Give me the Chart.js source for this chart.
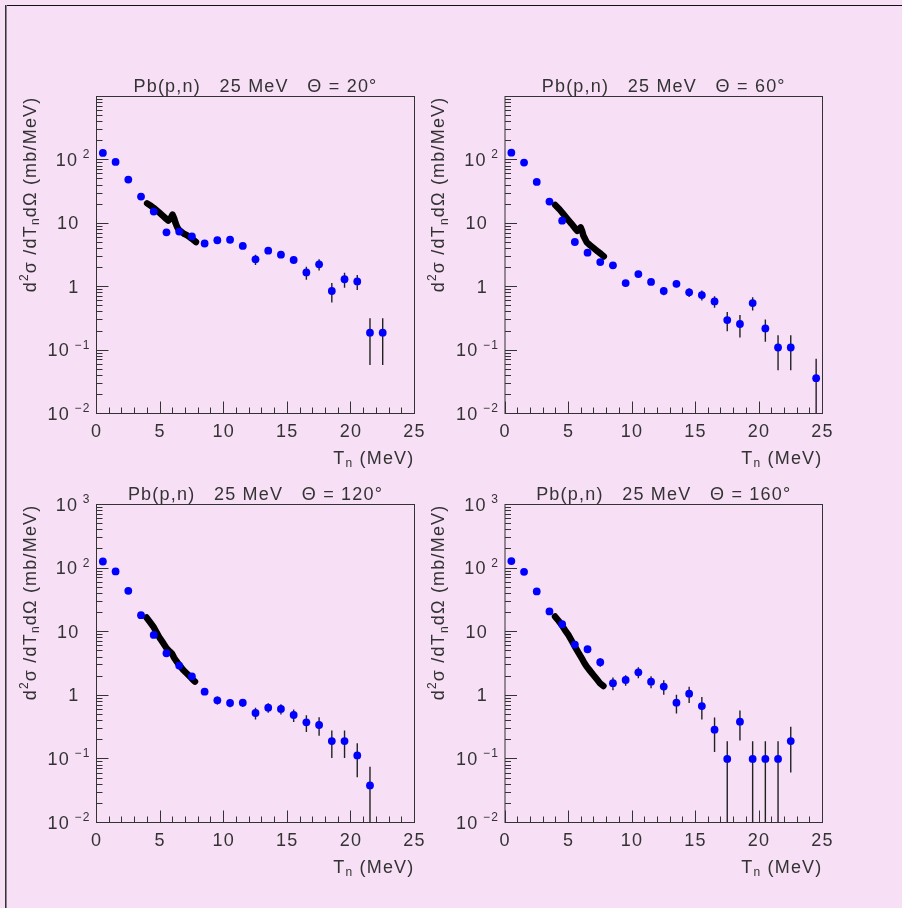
<!DOCTYPE html>
<html lang="en">
<head>
<meta charset="UTF-8">
<title>Pb(p,n) 25 MeV</title>
<script src="https://cdn.jsdelivr.net/npm/chart.js"></script>
<style>
  html, body { margin: 0; padding: 0; background: #f7dff6; }
  body { width: 902px; height: 908px; position: relative; overflow: hidden; }
  .edge-top { position: absolute; left: 5px; top: 5px; width: 897px; height: 1px; background: #111; }
  .edge-left { position: absolute; left: 5px; top: 5px; width: 1px; height: 903px; background: #333; border-right: 1px solid #8a8090; }
  canvas { position: absolute; left: 0; top: 0; pointer-events: none; }
</style>
</head>
<body>
<div class="edge-top"></div>
<div class="edge-left"></div>
<canvas id="c20" width="902" height="908"></canvas>
<canvas id="c60" width="902" height="908"></canvas>
<canvas id="c120" width="902" height="908"></canvas>
<canvas id="c160" width="902" height="908"></canvas>

<script>
// measured points (blue) : Tn in MeV, cross section in mb/MeV, linear errors
const x20 = [0.5, 1.5, 2.5, 3.5, 4.5, 5.5, 6.5, 7.5, 8.5, 9.5, 10.5, 11.5, 12.5, 13.5, 14.5, 15.5, 16.5, 17.5, 18.5, 19.5, 20.5, 21.5, 22.5];
const y20 = [129, 93, 49, 26.4, 15.3, 7.2, 7.4, 6.2, 4.8, 5.4, 5.5, 4.4, 2.7, 3.7, 3.2, 2.64, 1.68, 2.25, 0.855, 1.31, 1.21, 0.188, 0.188];
const e20 = [2, 1.5, 1, 0.6, 0.4, 0.2, 0.2, 0.2, 0.2, 0.2, 0.25, 0.3, 0.5, 0.4, 0.35, 0.35, 0.39, 0.45, 0.29, 0.35, 0.32, 0.13, 0.13];

const x60 = [0.5, 1.5, 2.5, 3.5, 4.5, 5.5, 6.5, 7.5, 8.5, 9.5, 10.5, 11.5, 12.5, 13.5, 14.5, 15.5, 16.5, 17.5, 18.5, 19.5, 20.5, 21.5, 22.5, 24.5];
const y60 = [130, 90.7, 45, 22, 11, 5.07, 3.44, 2.45, 2.17, 1.14, 1.58, 1.19, 0.855, 1.11, 0.815, 0.738, 0.586, 0.298, 0.258, 0.552, 0.22, 0.11, 0.11, 0.0361];
const e60 = [2, 1.5, 1, 0.5, 0.3, 0.15, 0.1, 0.08, 0.08, 0.12, 0.1, 0.12, 0.12, 0.13, 0.13, 0.13, 0.12, 0.1, 0.1, 0.13, 0.085, 0.062, 0.062, 0.037];

const x120 = [0.5, 1.5, 2.5, 3.5, 4.5, 5.5, 6.5, 7.5, 8.5, 9.5, 10.5, 11.5, 12.5, 13.5, 14.5, 15.5, 16.5, 17.5, 18.5, 19.5, 20.5, 21.5];
const y120 = [127, 88.6, 44, 18.2, 8.9, 4.58, 2.93, 1.99, 1.14, 0.834, 0.757, 0.767, 0.527, 0.64, 0.61, 0.49, 0.376, 0.341, 0.191, 0.191, 0.1135, 0.0383];
const e120 = [2, 1.5, 0.8, 0.4, 0.2, 0.1, 0.07, 0.06, 0.13, 0.12, 0.11, 0.11, 0.11, 0.11, 0.11, 0.11, 0.11, 0.11, 0.088, 0.088, 0.062, 0.037];

const x160 = [0.5, 1.5, 2.5, 3.5, 4.5, 5.5, 6.5, 7.5, 8.5, 9.5, 10.5, 11.5, 12.5, 13.5, 14.5, 15.5, 16.5, 17.5, 18.5, 19.5, 20.5, 21.5, 22.5];
const y160 = [129, 87.5, 43, 20.8, 13.1, 6.28, 5.3, 3.31, 1.55, 1.74, 2.3, 1.64, 1.37, 0.767, 1.06, 0.678, 0.288, 0.1, 0.385, 0.1, 0.1, 0.1, 0.191];
const e160 = [2, 1.5, 0.8, 0.4, 0.3, 0.15, 0.15, 0.5, 0.35, 0.33, 0.45, 0.35, 0.35, 0.25, 0.3, 0.26, 0.16, 0.09, 0.19, 0.09, 0.09, 0.09, 0.13];

// calculation (black curve)
const cx20 = [3.98, 4.3, 4.6, 4.9, 5.2, 5.45, 5.64, 5.8, 5.98, 6.1, 6.2, 6.35, 6.5, 6.85, 7.1, 7.35, 7.6, 7.82];
const cy20 = [20.6, 18.7, 16.9, 15.0, 13.2, 11.9, 11.0, 11.8, 13.7, 12.0, 10.3, 8.6, 7.8, 6.9, 6.5, 6.0, 5.5, 5.05];

const cx60 = [3.95, 4.3, 4.6, 4.9, 5.24, 5.5, 5.69, 5.85, 5.96, 6.08, 6.17, 6.44, 6.7, 6.97, 7.3, 7.55, 7.78];
const cy60 = [19.5, 16.5, 14, 11.8, 9.8, 8.4, 7.6, 8.2, 8.6, 7.5, 6.4, 5.0, 4.5, 4.07, 3.6, 3.3, 3.0];

const cx120 = [3.93, 4.2, 4.46, 4.72, 4.98, 5.25, 5.51, 5.75, 5.95, 6.1, 6.3, 6.56, 6.82, 7.1, 7.35, 7.55, 7.74];
const cy120 = [16.7, 14.2, 12.1, 9.8, 7.9, 6.6, 5.5, 4.9, 4.48, 3.9, 3.39, 2.9, 2.5, 2.2, 1.97, 1.78, 1.64];

const cx160 = [3.94, 4.2, 4.46, 4.72, 4.99, 5.25, 5.51, 5.78, 6.04, 6.24, 6.43, 6.7, 6.96, 7.22, 7.48, 7.75];
const cy160 = [17.3, 15, 12.8, 10.6, 8.9, 7.2, 5.8, 4.7, 3.83, 3.25, 2.83, 2.42, 2.09, 1.8, 1.55, 1.4];

// axis ticks
const xMajor = [0, 5, 10, 15, 20, 25];
const yDecades = [-2, -1, 0, 1, 2, 3];

const FONT = '"Liberation Sans", Arial, sans-serif';
const INK = '#333';
const SIZE = 18;

function pts(xs, ys) { return xs.map((v, i) => ({x: v, y: ys[i]})); }

// draws a run of [text, kind] pieces; kind is n / sup / sub
function richText(ctx, parts, x, y, align, size) {
    const fontFor = k => (k === 'n' ? size : Math.round(size * 0.68)) + 'px ' + FONT;
    let w = 0;
    parts.forEach(([t, k]) => { ctx.font = fontFor(k); w += ctx.measureText(t).width; });
    let cx = align === 'right' ? x - w : align === 'center' ? x - w / 2 : x;
    ctx.textAlign = 'left';
    ctx.textBaseline = 'alphabetic';
    parts.forEach(([t, k]) => {
        ctx.font = fontFor(k);
        const dy = k === 'sup' ? -size * 0.42 : k === 'sub' ? size * 0.22 : 0;
        ctx.fillText(t, cx, y + dy);
        cx += ctx.measureText(t).width;
    });
}

function decadeLabel(d) {
    if (d === 0) return [['1', 'n']];
    if (d === 1) return [['10', 'n']];
    const exp = d < 0 ? '\u2212' + (-d) : String(d);
    return [['10', 'n'], [' ', 'sup'], [exp, 'sup']];
}

// crisp 1px position
const snap = v => Math.floor(v) + 0.5;

const rootAxes = {
    id: 'rootAxes',
    beforeDatasetsDraw(chart) {
        // vertical error bars, under the markers
        const {ctx, chartArea: a, scales: {x, y}} = chart;
        const ds = chart.data.datasets[0];
        ctx.save();
        ctx.beginPath();
        ctx.rect(a.left, a.top, a.right - a.left, a.bottom - a.top);
        ctx.clip();
        ctx.strokeStyle = '#222';
        ctx.lineWidth = 1.4;
        ds.data.forEach((p, i) => {
            const e = ds.errors[i];
            if (!e) return;
            const px = x.getPixelForValue(p.x);
            const hi = y.getPixelForValue(p.y + e);
            const lo = p.y - e > 0 ? y.getPixelForValue(p.y - e) : a.bottom;
            ctx.beginPath();
            ctx.moveTo(px, hi);
            ctx.lineTo(px, lo);
            ctx.stroke();
        });
        ctx.restore();
    },
    afterDraw(chart, args, opts) {
        const {ctx, chartArea: a, scales: {x, y}} = chart;
        ctx.save();
        ctx.strokeStyle = INK;
        ctx.fillStyle = INK;
        ctx.lineWidth = 1;
        if ('letterSpacing' in ctx) ctx.letterSpacing = '1.2px';

        ctx.strokeRect(a.left, a.top, a.right - a.left, a.bottom - a.top);

        // x ticks, inside the frame
        ctx.beginPath();
        for (let v = 0; v <= 25; v++) {
            const px = snap(x.getPixelForValue(v));
            const len = xMajor.includes(v) ? 12 : 6;
            ctx.moveTo(px, a.bottom);
            ctx.lineTo(px, a.bottom - len);
        }
        // y ticks, log spaced
        yDecades.forEach(d => {
            for (let m = 1; m <= 9; m++) {
                if (d === 3 && m > 1) break;
                const py = snap(y.getPixelForValue(m * Math.pow(10, d)));
                const len = m === 1 ? 12 : 6;
                ctx.moveTo(a.left, py);
                ctx.lineTo(a.left + len, py);
            }
        });
        ctx.stroke();

        // tick labels
        ctx.textAlign = 'center';
        ctx.textBaseline = 'alphabetic';
        ctx.font = SIZE + 'px ' + FONT;
        xMajor.forEach(v => ctx.fillText(String(v), x.getPixelForValue(v), a.bottom + 23));
        yDecades.forEach(d => {
            if (d === 3 && !opts.showTop) return;
            const py = y.getPixelForValue(Math.pow(10, d)) + 6;
            const right = (d === 0 || d === 1) ? a.left - 17 : a.left - 6;
            richText(ctx, decadeLabel(d), right, py, 'right', SIZE);
        });

        // titles
        richText(ctx, [[opts.title, 'n']], (a.left + a.right) / 2, a.top - 5, 'center', SIZE);
        richText(ctx, [['T', 'n'], ['n', 'sub'], [' (MeV)', 'n']], a.right, a.bottom + 50, 'right', SIZE);
        ctx.translate(a.left - 61, a.top);
        ctx.rotate(-Math.PI / 2);
        richText(ctx, [['d', 'n'], ['2', 'sup'], ['\u03c3 /dT', 'n'], ['n', 'sub'], ['d\u03a9 (mb/MeV)', 'n']], 0, 0, 'right', SIZE);
        ctx.restore();
    }
};

const panels = [
    {id: 'c20', title: 'Pb(p,n)   25 MeV   \u0398 = 20\u00b0', xs: x20, ys: y20, err: e20, cxs: cx20, cys: cy20,
     box: {left: 96.5, top: 96.5, right: 414.5, bottom: 413.5}, showTop: false},
    {id: 'c60', title: 'Pb(p,n)   25 MeV   \u0398 = 60\u00b0', xs: x60, ys: y60, err: e60, cxs: cx60, cys: cy60,
     box: {left: 505, top: 96.5, right: 822.5, bottom: 413.5}, showTop: false},
    {id: 'c120', title: 'Pb(p,n)   25 MeV   \u0398 = 120\u00b0', xs: x120, ys: y120, err: e120, cxs: cx120, cys: cy120,
     box: {left: 96.5, top: 504.5, right: 414.5, bottom: 822.5}, showTop: true},
    {id: 'c160', title: 'Pb(p,n)   25 MeV   \u0398 = 160\u00b0', xs: x160, ys: y160, err: e160, cxs: cx160, cys: cy160,
     box: {left: 505, top: 504.5, right: 822.5, bottom: 822.5}, showTop: true}
];

panels.forEach(p => {
    const cv = document.getElementById(p.id);
    new Chart(cv, {
        type: 'scatter',
        data: {
            datasets: [
                {
                    data: pts(p.xs, p.ys),
                    errors: p.err,
                    pointRadius: 3.9,
                    pointBackgroundColor: '#0000ff',
                    pointBorderWidth: 0,
                    showLine: false
                },
                {
                    data: pts(p.cxs, p.cys),
                    showLine: true,
                    borderColor: '#000',
                    borderWidth: 6.5,
                    borderCapStyle: 'round',
                    borderJoinStyle: 'round',
                    pointRadius: 0,
                    tension: 0
                }
            ]
        },
        options: {
            responsive: false,
            animation: false,
            events: [],
            layout: {
                padding: {
                    left: p.box.left,
                    top: p.box.top,
                    right: cv.width - p.box.right,
                    bottom: cv.height - p.box.bottom
                }
            },
            scales: {
                x: {type: 'linear', min: 0, max: 25, display: false},
                y: {type: 'logarithmic', min: 0.01, max: 1000, display: false}
            },
            plugins: {
                legend: {display: false},
                tooltip: {enabled: false},
                rootAxes: {title: p.title, showTop: p.showTop}
            }
        },
        plugins: [rootAxes]
    });
});
</script>
</body>
</html>
